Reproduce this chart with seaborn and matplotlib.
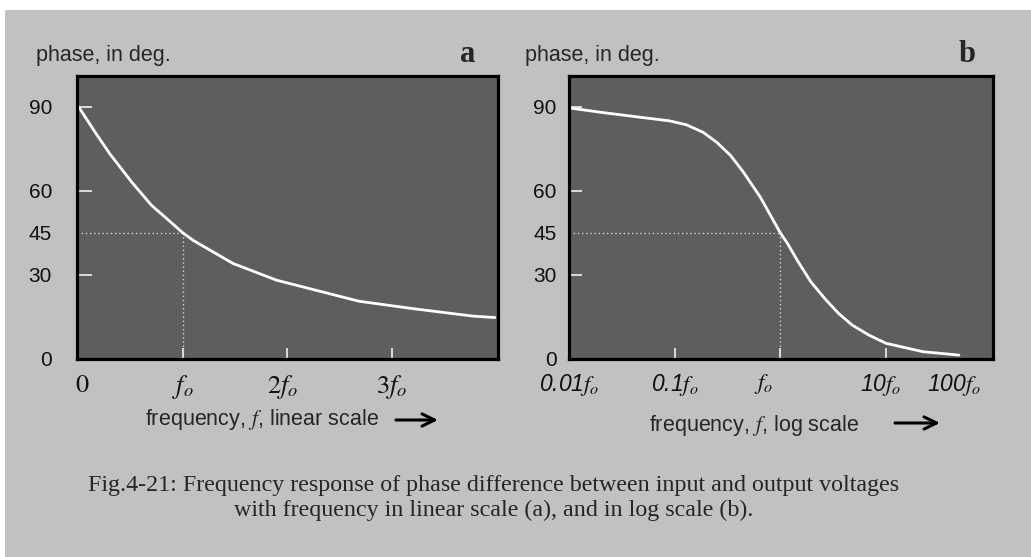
import matplotlib
matplotlib.use('Agg')
import matplotlib.pyplot as plt
import matplotlib.transforms as mtransforms
from matplotlib.patches import Rectangle, FancyArrowPatch
from matplotlib.ticker import NullFormatter
import seaborn as sns

# ---- values (frequency in units of f_o, phase in deg) ----
lin_freq = [0.0, 0.17, 0.30, 0.51, 0.70, 0.83, 1.0, 1.10, 1.48, 1.90, 2.50, 2.69, 3.20, 3.78, 3.99]
lin_phase = [90.0, 80.3, 73.2, 63.1, 54.8, 50.6, 45.0, 42.3, 34.1, 28.1, 22.4, 20.6, 18.0, 15.3, 14.8]

log_freq = [0.0105, 0.0204, 0.049, 0.089, 0.129, 0.186, 0.251, 0.339, 0.447, 0.646, 1.0, 1.17,
            1.48, 1.95, 2.63, 3.55, 4.79, 6.92, 10.0, 22.4, 49.0]
log_phase = [89.5, 88.0, 86.2, 85.0, 83.6, 80.9, 77.3, 72.6, 66.7, 57.8, 45.0, 41.2,
             34.6, 27.5, 21.6, 16.3, 12.1, 8.5, 5.6, 2.6, 1.4]

y_label_vals = [0, 30, 45, 60, 90]
y_mark_vals = [30, 60, 90]
lin_tick_vals = [0, 1, 2, 3]
lin_tick_text = ['$0$', '$f_o$', '$2f_o$', '$3f_o$']
lin_mark_vals = [1, 2, 3]
log_tick_vals = [0.01, 0.1, 1, 10, 100]
log_tick_text = ['0.01$f_o$', '0.1$f_o$', '$f_o$', '10$f_o$', '100$f_o$']
log_mark_vals = [0.1, 1, 10]

caption = ("Fig.4-21: Frequency response of phase difference between input and output voltages\n"
           "with frequency in linear scale (a), and in log scale (b).")

sns.set_style('white')
plt.rcParams['font.family'] = ['Liberation Sans', 'DejaVu Sans']
plt.rcParams['mathtext.fontset'] = 'stix'

W, H = 1031, 557
fig = plt.figure(figsize=(W / 100, H / 100), dpi=100)
fig.set_facecolor('white')
fig.patches.append(Rectangle((5 / W, 0), 1 - 5 / W, 1 - 10 / H, transform=fig.transFigure,
                             facecolor='#c1c1c1', edgecolor='none', zorder=-5))

bg = '#5e5e5e'
mark_col = '#e6e6e6'
dot_col = '#d5d5d5'

def px_box(x0, x1, y0, y1):
    return [x0 / W, 1 - y1 / H, (x1 - x0) / W, (y1 - y0) / H]

ax1 = fig.add_axes(px_box(77, 498, 76, 359))
ax2 = fig.add_axes(px_box(569, 993, 76, 359))

for ax in (ax1, ax2):
    ax.set_facecolor(bg)
    for s in ax.spines.values():
        s.set_color('black')
        s.set_linewidth(2.3)
        s.set_zorder(5)
    ax.set_ylim(0, 101)
    ax.tick_params(which='both', bottom=True, left=True, top=False, right=False)
    # the white marks sit on the same values as some labels, keep both
    ax.xaxis.remove_overlapping_locs = False
    ax.yaxis.remove_overlapping_locs = False

# ---- panel a : linear scale ----
sns.lineplot(x=lin_freq, y=lin_phase, ax=ax1, color='white', linewidth=2.0, zorder=3)
ax1.set_xlim(-0.015, 4.02)
ax1.hlines(45, -0.015, 1, colors=dot_col, linestyles=(0, (1, 2)), linewidth=1.0, zorder=2)
ax1.vlines(1, 0, 45, colors=dot_col, linestyles=(0, (1, 2)), linewidth=1.0, zorder=2)

ax1.set_xticks(lin_tick_vals, labels=lin_tick_text)
ax1.set_xticks(lin_mark_vals, minor=True)
ax1.set_yticks(y_label_vals, labels=[str(v) for v in y_label_vals])
ax1.set_yticks(y_mark_vals, minor=True)
ax1.tick_params(axis='x', which='major', length=0, pad=10, labelsize=19, labelcolor='#111111')
ax1.tick_params(axis='y', which='major', length=0, pad=18, labelsize=15, labelcolor='#111111')
ax1.tick_params(axis='x', which='minor', direction='in', length=8, width=1.3, color=mark_col)
ax1.tick_params(axis='y', which='minor', direction='in', length=11, width=1.3, color=mark_col)

# ---- panel b : log scale ----
sns.lineplot(x=log_freq, y=log_phase, ax=ax2, color='white', linewidth=2.0, zorder=3)
ax2.set_xscale('log')
ax2.set_xlim(0.01, 103)
ax2.hlines(45, 0.01, 1, colors=dot_col, linestyles=(0, (1, 2)), linewidth=1.0, zorder=2)
ax2.vlines(1, 0, 45, colors=dot_col, linestyles=(0, (1, 2)), linewidth=1.0, zorder=2)

ax2.set_xticks(log_tick_vals, labels=log_tick_text)
ax2.set_xticks(log_mark_vals, minor=True)
ax2.xaxis.set_minor_formatter(NullFormatter())
ax2.set_yticks(y_label_vals, labels=[str(v) for v in y_label_vals])
ax2.set_yticks(y_mark_vals, minor=True)
ax2.tick_params(axis='x', which='major', length=0, pad=9, labelsize=16.5, labelcolor='#111111')
ax2.tick_params(axis='y', which='major', length=0, pad=9, labelsize=15, labelcolor='#111111')
ax2.tick_params(axis='x', which='minor', direction='in', length=8, width=1.3, color=mark_col)
ax2.tick_params(axis='y', which='minor', direction='in', length=9, width=1.3, color=mark_col)
for lab in ax2.get_xticklabels():
    lab.set_fontstyle('italic')

# nudge a few labels left like in the original
shifts = {2: -17, 3: -5, 4: -38}
for i, lab in enumerate(ax2.get_xticklabels()):
    if i in shifts:
        lab.set_transform(lab.get_transform() +
                          mtransforms.ScaledTranslation(shifts[i] / 100, 0, fig.dpi_scale_trans))
for i, lab in enumerate(ax1.get_xticklabels()):
    if i in (0, 2):
        dx = 4 if i == 0 else -5
        lab.set_transform(lab.get_transform() +
                          mtransforms.ScaledTranslation(dx / 100, 0, fig.dpi_scale_trans))

# ---- texts ----
def fx(x):
    return x / W

def fy(y):
    return 1 - y / H

fig.text(fx(36), fy(55), 'phase, in deg.', fontsize=15.5, va='center', ha='left')
fig.text(fx(525), fy(55), 'phase, in deg.', fontsize=15.5, va='center', ha='left')
fig.text(fx(468), fy(62), 'a', fontsize=22, fontweight='bold', family='Liberation Serif',
         ha='center', va='baseline')
fig.text(fx(967), fy(62), 'b', fontsize=22, fontweight='bold', family='Liberation Serif',
         ha='center', va='baseline')

fig.text(fx(262), fy(420), 'frequency, $f$, linear scale', fontsize=15.5, ha='center', va='center')
fig.text(fx(754), fy(425), 'frequency, $f$, log scale', fontsize=15.5, ha='center', va='center')
for (x0, x1, y) in [(396, 438, 420), (895, 940, 423)]:
    fig.add_artist(FancyArrowPatch(
        (fx(x0), fy(y)), (fx(x1), fy(y)), transform=fig.transFigure,
        arrowstyle='->,head_length=0.45,head_width=0.22', mutation_scale=20,
        linewidth=2.2, color='black', shrinkA=0, shrinkB=0))

fig.text(fx(494), fy(498), caption, fontsize=17.3, family='Liberation Serif',
         ha='center', va='center', multialignment='center', linespacing=1.2)

fig.savefig('out.png', dpi=100, facecolor=fig.get_facecolor())
